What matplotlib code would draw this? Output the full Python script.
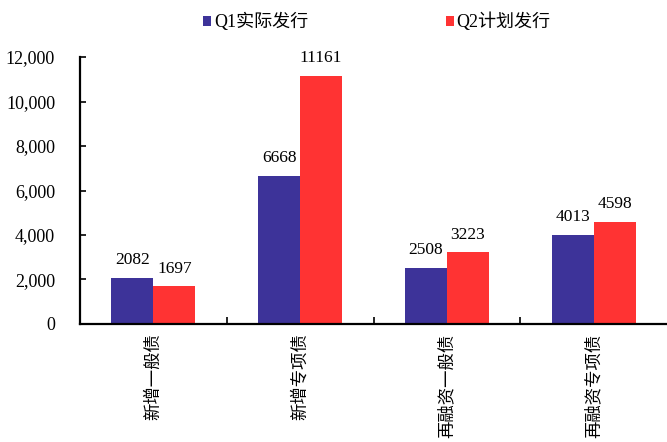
import matplotlib.pyplot as plt
from matplotlib.ticker import FuncFormatter, FixedLocator
import numpy as np

plt.rcParams["font.family"] = ["Liberation Serif", "Noto Sans CJK SC"]

categories = ["新增一般债", "新增专项债", "再融资一般债", "再融资专项债"]
q1_actual = [2082, 6668, 2508, 4013]
q2_plan = [1697, 11161, 3223, 4598]
series_names = ["Q1实际发行", "Q2计划发行"]
colors = ["#3D3399", "#FF3333"]

fig = plt.figure(figsize=(6.67, 4.42), dpi=100)
ax = fig.add_axes([0.12, 0.267, 0.88, 0.604])

x = np.arange(len(categories))
w = 0.286
bars1 = ax.bar(x - w / 2, q1_actual, w, color=colors[0], label=series_names[0])
bars2 = ax.bar(x + w / 2, q2_plan, w, color=colors[1], label=series_names[1])

for bars, vals in [(bars1, q1_actual), (bars2, q2_plan)]:
    for b, v in zip(bars, vals):
        ax.annotate(str(v), (b.get_x() + b.get_width() / 2, v),
                    xytext=(0, 7), textcoords="offset points",
                    ha="center", va="bottom", fontsize=12.5)

ax.set_xlim(-0.5, len(categories) - 0.5)
ax.set_ylim(0, 12000)
ax.set_yticks(np.arange(0, 12001, 2000))
ax.yaxis.set_major_formatter(FuncFormatter(lambda v, p: f"{int(v):,}"))
ax.tick_params(axis="y", direction="in", length=4, width=1.2, labelsize=13, pad=18)

# category separators as inward x ticks, labels placed by hand
ax.xaxis.set_major_locator(FixedLocator(x[:-1] + 0.5))
ax.set_xticklabels([])
ax.tick_params(axis="x", direction="in", length=5, width=1.2)
for xi, name in zip(x, categories):
    ax.text(xi, -0.035, name, transform=ax.get_xaxis_transform(),
            rotation=90, ha="center", va="top", fontsize=12.5,
            family=["Noto Sans CJK SC"])

for s in ["top", "right"]:
    ax.spines[s].set_visible(False)
ax.spines["left"].set_linewidth(1.6)
ax.spines["bottom"].set_linewidth(1.6)

fig.legend(loc="center", bbox_to_anchor=(0.565, 0.95), ncol=2, frameon=False,
           handlelength=0.45, handleheight=0.45, handletextpad=0.15,
           columnspacing=7.6, prop={"family": ["Liberation Serif", "Noto Sans CJK SC"], "size": 13})

fig.savefig("out.png", dpi=100)
